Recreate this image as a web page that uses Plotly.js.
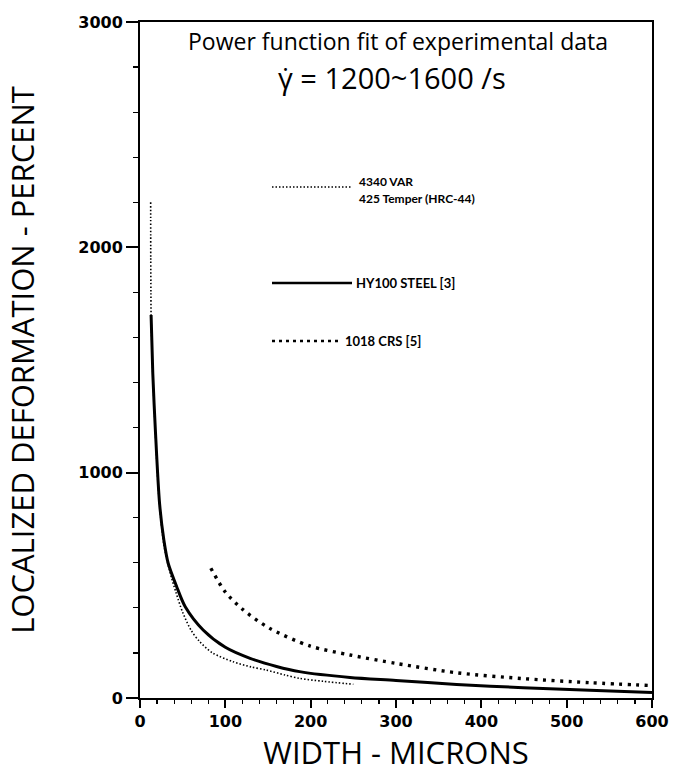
<!DOCTYPE html>
<html>
<head>
<meta charset="utf-8">
<script src="https://cdn.plot.ly/plotly-3.0.1.min.js"></script>
<style>html,body{margin:0;padding:0;background:#fff;}#chart{width:673px;height:778px;}</style>
</head>
<body>
<div id="chart"></div>
<script>
// 4340 VAR, 425 Temper (HRC-44)
const var4340X = [12.5, 12.6, 12.8, 13, 15, 18, 22, 28, 35, 42, 50, 60, 70, 85, 109, 130, 148, 170, 187, 215, 250];
const var4340Y = [2200, 1950, 1800, 1700, 1440, 1180, 900, 680, 560, 470, 380, 300, 250, 200, 161, 138, 124, 102, 87, 74, 61];
// HY100 STEEL [3]
const hy100X = [13, 15, 18, 23, 28, 33, 43, 53, 74, 100, 129, 160, 187, 246, 300, 371, 449, 527, 600];
const hy100Y = [1700, 1440, 1190, 860, 700, 598, 494, 405, 302, 225, 176, 140, 117, 91, 78, 60, 46, 34, 24];
// 1018 CRS [5]
const crs1018X = [83, 100, 121, 152, 199, 246, 301, 371, 449, 527, 600];
const crs1018Y = [576, 470, 391, 309, 231, 191, 153, 112, 86, 68, 55];

const traces = [
  {x: var4340X, y: var4340Y, mode: 'lines', name: '4340 VAR 425 Temper (HRC-44)',
   line: {color: '#000', width: 1.6, dash: '1.5px,2px', shape: 'spline', smoothing: 0.8}},
  {x: hy100X, y: hy100Y, mode: 'lines', name: 'HY100 STEEL [3]',
   line: {color: '#000', width: 3, shape: 'spline', smoothing: 0.8}},
  {x: crs1018X, y: crs1018Y, mode: 'lines', name: '1018 CRS [5]',
   line: {color: '#000', width: 3.4, dash: '3px,5.5px', shape: 'spline', smoothing: 0.8}}
];

const px = v => (v - 140) / 512;
const py = v => (698 - v) / 676;

const layout = {
  width: 673, height: 778,
  margin: {l: 140, r: 21, t: 22, b: 80},
  paper_bgcolor: '#fff', plot_bgcolor: '#fff',
  showlegend: false,
  font: {family: 'DejaVu Sans', color: '#000'},
  xaxis: {
    range: [0, 600], tickmode: 'linear', tick0: 0, dtick: 100,
    showgrid: false, zeroline: false, showline: true, linecolor: '#000', linewidth: 2, mirror: true,
    ticks: 'outside', ticklen: 8, tickwidth: 1.8, tickcolor: '#000',
    minor: {dtick: 20, ticks: 'outside', ticklen: 4, tickwidth: 1.2, tickcolor: '#000', showgrid: false},
    tickfont: {family: 'DejaVu Sans', size: 16, color: '#000', weight: 'bold'},
    title: {text: 'WIDTH - MICRONS', font: {family: 'Open Sans', size: 31, color: '#000'}, standoff: 10}
  },
  yaxis: {
    range: [0, 3000], tickmode: 'linear', tick0: 0, dtick: 1000,
    showgrid: false, zeroline: false, showline: true, linecolor: '#000', linewidth: 2, mirror: true,
    ticks: 'outside', ticklen: 12, tickwidth: 1.8, tickcolor: '#000',
    minor: {dtick: 200, ticks: 'outside', ticklen: 5, tickwidth: 1.2, tickcolor: '#000', showgrid: false},
    tickfont: {family: 'DejaVu Sans', size: 16, color: '#000', weight: 'bold'},
    title: {text: 'LOCALIZED DEFORMATION - PERCENT', font: {family: 'Open Sans', size: 31, color: '#000'}, standoff: 34}
  },
  shapes: [
    {type: 'line', xref: 'paper', yref: 'paper', x0: px(272), x1: px(352), y0: py(187), y1: py(187),
     line: {color: '#000', width: 1.4, dash: '1.5px,2px'}},
    {type: 'line', xref: 'paper', yref: 'paper', x0: px(272), x1: px(352), y0: py(283), y1: py(283),
     line: {color: '#000', width: 2.6}},
    {type: 'line', xref: 'paper', yref: 'paper', x0: px(272), x1: px(338), y0: py(341), y1: py(341),
     line: {color: '#000', width: 2.4, dash: '3px,4px'}}
  ],
  annotations: [
    {xref: 'paper', yref: 'paper', x: px(398), y: py(41), text: 'Power function fit of experimental data',
     showarrow: false, xanchor: 'center', yanchor: 'middle', font: {family: 'Open Sans', size: 23, color: '#000'}},
    {xref: 'paper', yref: 'paper', x: px(392), y: py(77), text: 'γ̇ = 1200~1600 /s',
     showarrow: false, xanchor: 'center', yanchor: 'middle', font: {family: 'Open Sans', size: 29, color: '#000'}},
    {xref: 'paper', yref: 'paper', x: px(357), y: py(181), text: '<b>4340 VAR</b>',
     showarrow: false, xanchor: 'left', yanchor: 'middle', font: {family: 'Lato', size: 12, color: '#000'}},
    {xref: 'paper', yref: 'paper', x: px(357), y: py(198), text: '<b>425 Temper (HRC-44)</b>',
     showarrow: false, xanchor: 'left', yanchor: 'middle', font: {family: 'Lato', size: 12, color: '#000'}},
    {xref: 'paper', yref: 'paper', x: px(354), y: py(283), text: '<b>HY100 STEEL [3]</b>',
     showarrow: false, xanchor: 'left', yanchor: 'middle', font: {family: 'Lato', size: 13, color: '#000'}},
    {xref: 'paper', yref: 'paper', x: px(343), y: py(341), text: '<b>1018 CRS [5]</b>',
     showarrow: false, xanchor: 'left', yanchor: 'middle', font: {family: 'Lato', size: 13, color: '#000'}}
  ]
};

Plotly.newPlot('chart', traces, layout, {displayModeBar: false, staticPlot: true});
</script>
</body>
</html>
